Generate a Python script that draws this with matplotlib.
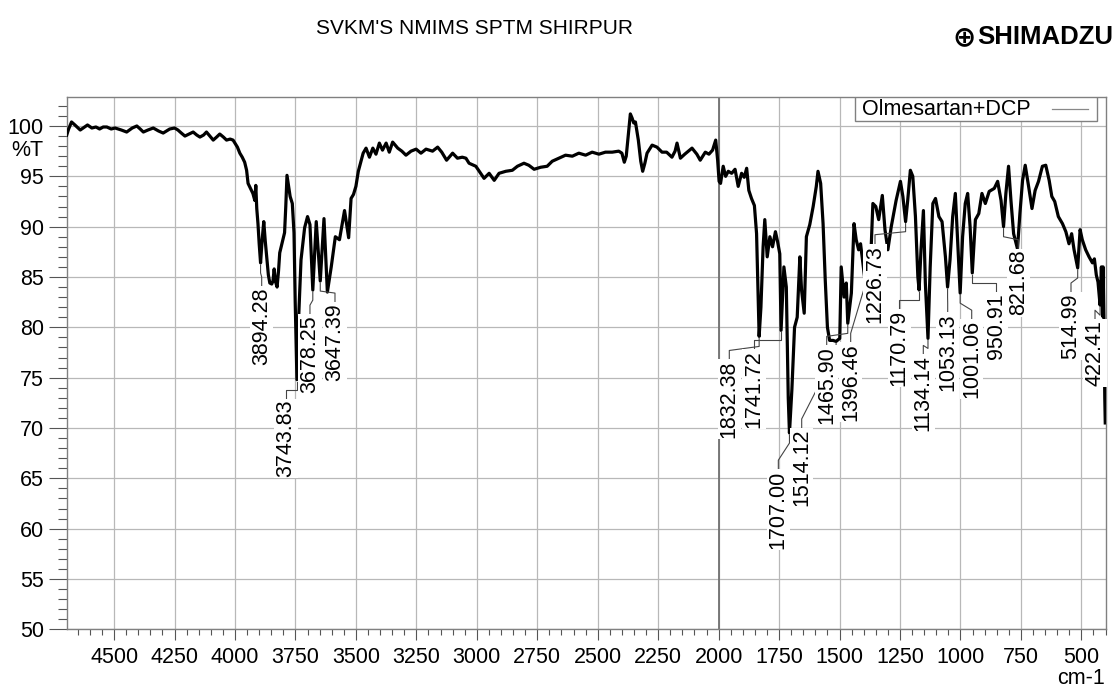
import numpy as np
import matplotlib
matplotlib.use("Agg")
import matplotlib.pyplot as plt
from matplotlib.ticker import MultipleLocator
from matplotlib.patches import Rectangle
from matplotlib.lines import Line2D

plt.rcParams['font.family'] = ['Liberation Sans', 'DejaVu Sans']

# ---------------- data ----------------
wavenumber = [
    4696, 4688, 4676, 4662, 4640, 4622, 4610, 4592, 4575, 4560, 4545, 4530, 4512, 4496,
    4470, 4448, 4425, 4406, 4392, 4379, 4360, 4338, 4316, 4297, 4270, 4250, 4236, 4222,
    4207, 4190, 4173, 4158, 4145, 4130, 4118, 4104, 4090, 4076, 4063, 4048, 4035, 4020,
    4008, 3998, 3990, 3980, 3970, 3960, 3952, 3946, 3936, 3926, 3918, 3914, 3910, 3905,
    3900, 3894.28, 3888, 3881, 3875, 3869, 3862, 3856, 3848, 3843, 3838, 3833, 3826, 3820,
    3815, 3804, 3795, 3790, 3785, 3778, 3772, 3763, 3756, 3751, 3743.83, 3736, 3727, 3712,
    3700, 3690, 3678.25, 3664, 3647.39, 3632, 3618, 3602, 3585, 3568, 3547, 3530, 3520,
    3510, 3500, 3490, 3478, 3470, 3458, 3444, 3430, 3417, 3403, 3390, 3375, 3362, 3348,
    3327, 3310, 3293, 3272, 3251, 3231, 3210, 3183, 3162, 3145, 3125, 3100, 3080, 3060,
    3045, 3032, 3004, 2990, 2970, 2949, 2928, 2908, 2880, 2853, 2832, 2805, 2785, 2763,
    2736, 2709, 2688, 2660, 2633, 2605, 2578, 2550, 2523, 2495, 2468, 2440, 2413, 2400,
    2390, 2382, 2372, 2365, 2358, 2351, 2344, 2332, 2322, 2314, 2305, 2296, 2275, 2255,
    2234, 2215, 2193, 2180, 2172, 2158, 2140, 2125, 2110, 2090, 2076, 2055, 2040, 2025,
    2012, 2004, 1998, 1992, 1981, 1971, 1960, 1946, 1932, 1919, 1905, 1894, 1884, 1875,
    1864, 1852, 1843, 1832.38, 1825, 1816, 1809, 1799, 1788, 1777, 1765, 1756, 1747,
    1741.72, 1730, 1720, 1712, 1707.00, 1697, 1686, 1675, 1664, 1657, 1646, 1637, 1623,
    1609, 1596, 1589, 1578, 1568, 1559, 1550, 1541, 1527, 1514.12, 1499, 1493, 1481,
    1472, 1465.90, 1451, 1440, 1431, 1421, 1413, 1396.46, 1389, 1369, 1362, 1350, 1338,
    1323, 1312, 1300, 1286, 1266, 1248, 1238, 1226.73, 1218, 1207, 1197, 1186, 1176,
    1170.79, 1163, 1153, 1145, 1134.14, 1125, 1114, 1103, 1089, 1076, 1062, 1053.13,
    1043, 1032, 1021, 1011, 1001.06, 991, 980, 970, 960, 950.91, 938, 924, 911, 897,
    881, 860, 846, 832, 821.68, 812, 801, 791, 780, 764, 754, 743, 732, 718, 704, 691,
    677, 661, 647, 633, 622, 610, 595, 578, 564, 551, 540, 530, 514.99, 505, 496, 482,
    468, 454, 446, 438, 431, 422.41, 417, 412, 410, 406, 403, 401,
]
transmittance = [
    99.1, 99.7, 100.4, 100.1, 99.6, 99.9, 100.1, 99.8, 99.9, 99.7, 99.9, 99.9, 99.7, 99.8,
    99.6, 99.4, 99.8, 100.0, 99.7, 99.4, 99.6, 99.8, 99.5, 99.3, 99.7, 99.8, 99.6, 99.3,
    99.0, 99.2, 99.4, 99.1, 98.9, 99.1, 99.4, 99.0, 98.6, 98.9, 99.2, 98.9, 98.6, 98.7,
    98.6, 98.2, 97.9, 97.3, 96.9, 96.4, 95.6, 94.3, 93.8, 93.3, 92.6, 94.1, 91.8, 90.3,
    88.3, 86.4, 88.6, 90.5, 88.6, 87.0, 85.2, 84.4, 84.3, 84.6, 85.8, 84.6, 84.0, 85.6,
    87.4, 88.5, 89.4, 92.0, 95.1, 94.0, 93.0, 92.3, 89.4, 82.5, 74.8, 81.4, 86.7, 89.9,
    91.0, 90.2, 83.7, 90.5, 84.6, 90.8, 83.5, 86.0, 89.0, 88.7, 91.6, 88.9, 92.8,
    93.2, 94.0, 95.5, 96.6, 97.3, 97.8, 96.9, 97.8, 97.2, 98.3, 97.6, 98.3, 97.4, 98.4,
    97.8, 97.5, 97.1, 97.5, 97.7, 97.3, 97.7, 97.5, 97.9, 97.4, 96.6, 97.3, 96.8, 96.9,
    96.8, 96.3, 96.0, 95.5, 94.8, 95.3, 94.6, 95.3, 95.5, 95.6, 96.0, 96.3, 96.1, 95.7,
    95.9, 96.0, 96.5, 96.8, 97.1, 97.0, 97.3, 97.1, 97.4, 97.2, 97.4, 97.4, 97.5, 97.3,
    96.4, 97.0, 99.5, 101.2, 100.8, 100.3, 100.4, 98.6, 96.5, 95.5, 96.3, 97.3, 98.1, 97.9,
    97.4, 97.4, 96.9, 97.5, 98.3, 96.8, 97.2, 97.5, 97.8, 97.2, 96.6, 97.4, 97.2, 97.6,
    98.6, 96.6, 94.5, 94.3, 96.0, 95.0, 95.5, 95.3, 95.7, 94.0, 95.3, 94.9, 95.8, 93.6,
    92.8, 92.1, 89.3, 79.1, 82.0, 88.0, 90.7, 87.0, 89.0, 88.0, 89.5, 88.5, 87.3,
    79.7, 86.0, 84.0, 73.0, 69.5, 73.8, 80.0, 81.0, 87.0, 83.7, 81.4, 89.0, 90.2,
    92.0, 94.0, 95.5, 94.3, 90.3, 84.7, 80.0, 78.7, 78.7, 78.6, 78.9, 86.0, 83.0,
    84.4, 80.4, 83.4, 90.3, 88.7, 87.7, 88.3, 85.0, 87.3, 88.0, 92.3, 92.0, 90.7,
    93.1, 89.7, 87.7, 90.0, 92.6, 94.5, 93.0, 90.5, 92.6, 95.6, 95.0, 91.0, 85.0,
    83.7, 87.7, 91.6, 84.4, 78.9, 86.0, 92.3, 92.8, 91.0, 90.5, 87.0, 84.0,
    86.7, 91.0, 93.3, 88.3, 83.4, 89.0, 92.3, 93.3, 90.0, 85.4, 90.7, 91.3, 93.3, 92.3,
    93.5, 93.8, 94.5, 92.6, 90.0, 93.3, 96.0, 92.6, 89.3, 87.8, 91.3, 94.6, 96.1, 94.0, 91.8, 93.6,
    94.5, 96.0, 96.1, 94.6, 93.0, 92.5, 91.0, 90.3, 89.5, 88.3, 89.3, 87.7, 85.9, 89.7, 88.7, 87.7,
    87.0, 86.4, 86.8, 85.2, 84.5, 82.2, 86.0, 81.1, 86.0, 80.1, 73.0, 70.5,
]

peak_labels = ["3894.28", "3743.83", "3678.25", "3647.39", "1832.38", "1741.72", "1707.00",
               "1514.12", "1465.90", "1396.46", "1226.73", "1170.79", "1134.14", "1053.13",
               "1001.06", "950.91", "821.68", "514.99", "422.41"]

x_ticks = [4500, 4250, 4000, 3750, 3500, 3250, 3000, 2750, 2500, 2250, 2000,
           1750, 1500, 1250, 1000, 750, 500]
y_ticks = [50, 55, 60, 65, 70, 75, 80, 85, 90, 95, 100]

series_name = "Olmesartan+DCP"
title_text = "SVKM'S NMIMS SPTM SHIRPUR"

# label placement (layout): x position and top of each rotated label
label_x = [3889.6, 3789, 3690, 3586.5, 1955.8, 1853.7, 1753, 1656.4, 1553, 1453.8,
           1353.3, 1252.7, 1153.5, 1052.6, 953.3, 852.7, 760.7, 542.7, 443.4]
label_top = [84.0, 72.8, 81.2, 82.4, 76.7, 77.7, 65.8, 69.9, 78.1, 78.4,
             88.2, 81.7, 77.2, 81.4, 80.7, 83.4, 87.7, 83.4, 80.7]

# ---------------- figure ----------------
W, H = 1119, 689
fig = plt.figure(figsize=(W / 100, H / 100), dpi=100)
ax = fig.add_axes([66.7 / W, (H - 629.3) / H, (1105.5 - 66.7) / W, (629.3 - 97.3) / H])

ax.set_xlim(4696, 400)
ax.set_ylim(50, 102.85)

ax.plot(wavenumber, transmittance, color='black', lw=2.3, zorder=3, solid_joinstyle='round')

ax.set_xticks(x_ticks)
ax.set_yticks(y_ticks)
ax.xaxis.set_minor_locator(MultipleLocator(50))
ax.yaxis.set_minor_locator(MultipleLocator(1))
ax.tick_params(axis='y', which='major', length=13, width=0.8, color='#555555',
               direction='out', pad=3.5, labelsize=15.5)
ax.tick_params(axis='y', which='minor', length=6.5, width=0.8, color='#555555', direction='out')
ax.tick_params(axis='x', which='major', length=8, width=0.8, color='#555555',
               direction='out', pad=5, labelsize=15.5)
ax.tick_params(axis='x', which='minor', length=4, width=0.8, color='#555555', direction='out')

ax.set_axisbelow(True)
ax.grid(True, which='major', color='#b8b8b8', lw=0.9)
ax.axvline(2000, color='#707070', lw=1.3, zorder=1.5)
for s in ax.spines.values():
    s.set_color('#808080')
    s.set_linewidth(1.0)

# peak labels with leaders
wn_arr = np.array(wavenumber, dtype=float)
t_arr = np.array(transmittance, dtype=float)
for lab, lx, ly in zip(peak_labels, label_x, label_top):
    xp = float(lab)
    yp = float(np.interp(xp, wn_arr[::-1], t_arr[::-1]))
    ax.plot([xp, xp, lx, lx], [yp - 0.2, yp - 1.0, ly + 1.0, ly + 0.1],
            color='#444444', lw=0.8, zorder=4)
    ax.text(lx, ly, lab, rotation=90, ha='center', va='top', fontsize=15.5, zorder=5,
            bbox=dict(facecolor='white', edgecolor='none', pad=0.8))

# legend box
lx0 = (855 - 66.7) / 1038.8
lx1 = (1097 - 66.7) / 1038.8
ly0 = 1 - (121 - 97.3) / 532.0
ax.add_patch(Rectangle((lx0, ly0), lx1 - lx0, 1 - ly0, transform=ax.transAxes,
                       facecolor='white', edgecolor='#808080', lw=1.0, zorder=6))
ax.text((862 - 66.7) / 1038.8, (1 + ly0) / 2, series_name, transform=ax.transAxes,
        ha='left', va='center', fontsize=15.5, zorder=7)
ax.add_line(Line2D([(1052 - 66.7) / 1038.8, (1088 - 66.7) / 1038.8],
                   [(1 + ly0) / 2, (1 + ly0) / 2], transform=ax.transAxes,
                   color='#888888', lw=0.9, zorder=7))

# surrounding texts
fig.text(43 / W, 1 - 150 / H, "%T", ha='right', va='center', fontsize=15.5)
fig.text(1105 / W, 1 - 679 / H, "cm-1", ha='right', va='center', fontsize=15.5)
fig.text(474 / W, 1 - 29 / H, title_text, ha='center', va='center', fontsize=15)
fig.text(964 / W, 1 - 37 / H, "\u2295", ha='center', va='center', fontsize=20,
         family='DejaVu Sans', fontweight='bold')
fig.text(977 / W, 1 - 37 / H, "SHIMADZU", ha='left', va='center', fontsize=18.5,
         fontweight='bold')

fig.savefig("out.png", dpi=100)
